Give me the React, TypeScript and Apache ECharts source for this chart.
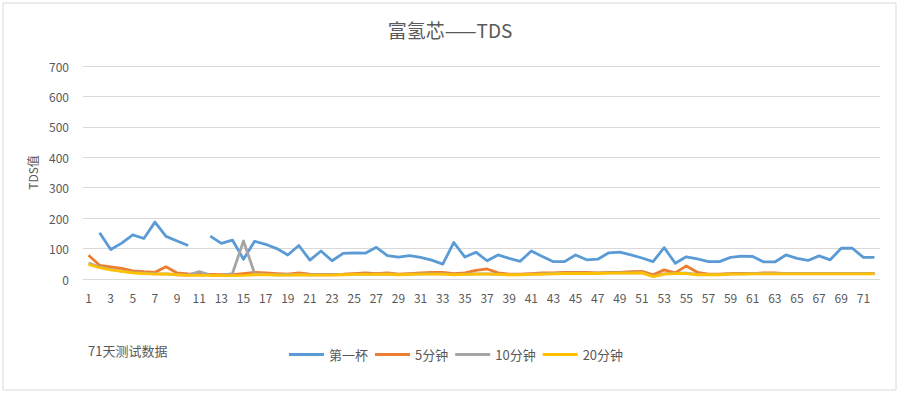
import React, { useEffect, useRef } from "react";
import * as echarts from "echarts";

const days: string[] = Array.from({ length: 72 }, (_, i) => String(i + 1));

const firstCup: (number | null)[] = [
  null, 152, 97, 118, 145, 133, 187, 140, 125, 110,
  null, 141, 117, 128, 65, 124, 114, 100, 79, 110,
  62, 92, 60, 84, 86, 85, 104, 77, 72, 77,
  71, 62, 49, 120, 72, 88, 60, 79, 68, 58,
  92, 74, 57, 57, 79, 63, 65, 86, 88, 79,
  69, 57, 103, 52, 73, 66, 57, 57, 71, 75,
  74, 56, 56, 79, 68, 61, 76, 63, 101, 101,
  71, 71,
];

const min5: number[] = [
  78, 45, 40, 35, 27, 24, 22, 40, 20, 17,
  16, 15, 14, 14, 18, 22, 20, 18, 16, 20,
  16, 15, 15, 16, 18, 20, 18, 20, 16, 18,
  20, 22, 22, 18, 20, 28, 33, 20, 16, 16,
  18, 20, 20, 22, 22, 22, 20, 22, 22, 24,
  25, 14, 30, 20, 43, 22, 16, 16, 18, 18,
  18, 20, 20, 18, 18, 18, 18, 18, 18, 18,
  18, 18,
];

const min10: number[] = [
  52, 39, 32, 26, 21, 19, 17, 17, 14, 13,
  24, 13, 12, 18, 125, 18, 15, 14, 14, 15,
  14, 14, 14, 15, 16, 16, 16, 17, 15, 16,
  17, 17, 17, 15, 16, 17, 17, 16, 15, 15,
  16, 17, 18, 19, 19, 19, 19, 20, 20, 20,
  21, 9, 17, 19, 19, 15, 15, 15, 17, 17,
  18, 18, 18, 18, 18, 18, 18, 18, 18, 18,
  18, 18,
];

const min20: number[] = [
  48, 37, 30, 25, 20, 18, 16, 17, 14, 12,
  12, 12, 11, 11, 12, 14, 14, 13, 13, 14,
  13, 13, 13, 14, 15, 15, 15, 16, 14, 15,
  16, 16, 16, 14, 15, 16, 16, 15, 14, 14,
  15, 16, 17, 18, 18, 18, 18, 19, 19, 19,
  20, 8, 16, 18, 18, 14, 14, 14, 16, 16,
  17, 17, 17, 17, 17, 17, 17, 17, 17, 17,
  17, 17,
];

const seriesNames = ["第一杯", "5分钟", "10分钟", "20分钟"];
const colors = ["#5B9BD5", "#ED7D31", "#A5A5A5", "#FFC000"];

export default function App() {
  const ref = useRef<HTMLDivElement>(null);
  useEffect(() => {
    if (!ref.current) return;
    const chart = echarts.init(ref.current, undefined, { renderer: "svg" });
    const font = "'Noto Sans CJK SC', 'Noto Sans', sans-serif";
    const datasets = [firstCup, min5, min10, min20];
    chart.setOption({
      animation: false,
      backgroundColor: "#ffffff",
      color: colors,
      textStyle: { fontFamily: font },
      title: {
        text: "富氢芯——TDS",
        left: "center",
        top: 15,
        textStyle: { fontSize: 19, fontWeight: "normal", color: "#595959", fontFamily: font },
      },
      legend: {
        left: 284,
        top: 343,
        icon: "rect",
        itemWidth: 35,
        itemHeight: 3,
        itemGap: 7,
        textStyle: { fontSize: 13, color: "#595959" },
        data: seriesNames,
      },
      grid: { left: 83, right: 20, top: 66, bottom: 115, containLabel: false },
      xAxis: {
        type: "category",
        data: days,
        boundaryGap: true,
        axisLine: { show: true, lineStyle: { color: "#d9d9d9" } },
        axisTick: { show: false },
        axisLabel: { interval: 1, color: "#595959", fontSize: 12, margin: 12 },
      },
      yAxis: {
        type: "value",
        min: 0,
        max: 700,
        interval: 100,
        name: "TDS值",
        nameLocation: "middle",
        nameGap: 40,
        nameRotate: 90,
        nameTextStyle: { color: "#595959", fontSize: 12 },
        axisLine: { show: false },
        axisTick: { show: false },
        axisLabel: { color: "#595959", fontSize: 12, margin: 14 },
        splitLine: { lineStyle: { color: "#d9d9d9", width: 1 } },
      },
      graphic: [
        {
          type: "rect",
          shape: { x: 3, y: 3, width: 893, height: 387 },
          style: { fill: "none", stroke: "#d9d9d9", lineWidth: 1 },
          silent: true,
        },
        {
          type: "text",
          left: 88,
          top: 344,
          style: { text: "71天测试数据", fill: "#595959", fontSize: 13, fontFamily: font },
        },
      ],
      series: seriesNames.map((name, i) => ({
        name,
        type: "line",
        data: datasets[i],
        symbol: "none",
        connectNulls: false,
        lineStyle: { width: 2.8, color: colors[i], join: "round" },
        z: 2 + i,
      })),
    });
    return () => chart.dispose();
  }, []);
  return (
    <div
      ref={ref}
      style={{ position: "fixed", left: 0, top: 0, width: 900, height: 394, background: "#fff" }}
    />
  );
}
